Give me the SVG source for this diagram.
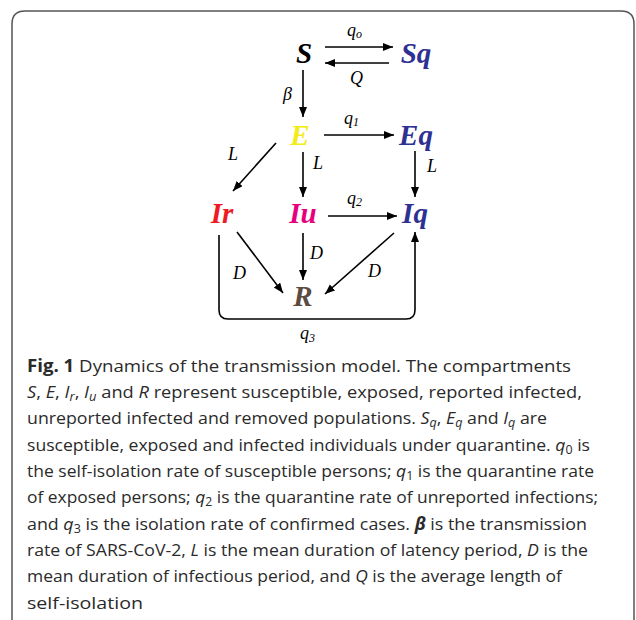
<svg xmlns="http://www.w3.org/2000/svg" width="636" height="620" viewBox="0 0 636 620">
<defs>
<marker id="ah" markerUnits="userSpaceOnUse" markerWidth="11" markerHeight="9" refX="10" refY="4" orient="auto">
<path d="M0,0 L10,4 L0,8 z" fill="#000"/>
</marker>
<style>
.node{font-family:"Liberation Serif",serif;font-weight:bold;font-style:italic;font-size:29px;text-anchor:middle}
.lbl{font-family:"Liberation Serif",serif;font-style:italic;font-size:18px;fill:#000}
.sub{font-size:12px}
.edge{stroke:#000;stroke-width:1.6;fill:none;marker-end:url(#ah)}
.cap{font-family:"Open Sans","Noto Sans",sans-serif;font-size:17px;fill:#2a2a2a}
.it{font-style:italic}
.cs{font-size:12px}
</style>
</defs>
<rect x="0" y="0" width="636" height="620" fill="#fff"/>
<path d="M12,640 V24 Q12,11 25,11 H621 Q634,11 634,24 V640" fill="none" stroke="#555" stroke-width="1.5"/>

<g id="connectors">
<line class="edge" x1="325" y1="47" x2="393" y2="47"/>
<line class="edge" x1="389" y1="63" x2="325" y2="63"/>
<line class="edge" x1="303" y1="70" x2="303" y2="117"/>
<line class="edge" x1="324" y1="135" x2="394" y2="135"/>
<line class="edge" x1="276" y1="143" x2="233" y2="191"/>
<line class="edge" x1="303" y1="152" x2="303" y2="197"/>
<line class="edge" x1="415" y1="151" x2="415" y2="197"/>
<line class="edge" x1="328" y1="216" x2="397" y2="216"/>
<line class="edge" x1="237" y1="232" x2="283" y2="293"/>
<line class="edge" x1="303" y1="233" x2="303" y2="280"/>
<line class="edge" x1="394" y1="233" x2="325" y2="294"/>
<path class="edge" d="M219,235 V310 Q219,319 228,319 H406 Q415,319 415,310 V232"/>
<text class="lbl" x="347" y="36">q<tspan class="sub" dy="2">o</tspan></text>
<text class="lbl" x="350" y="84">Q</text>
<text class="lbl" x="283" y="100">β</text>
<text class="lbl" x="344" y="124">q<tspan class="sub" dy="2">1</tspan></text>
<text class="lbl" x="228" y="160">L</text>
<text class="lbl" x="313" y="169">L</text>
<text class="lbl" x="427" y="172">L</text>
<text class="lbl" x="347" y="204">q<tspan class="sub" dy="2">2</tspan></text>
<text class="lbl" x="310" y="259">D</text>
<text class="lbl" x="233" y="279">D</text>
<text class="lbl" x="368" y="277">D</text>
<text class="lbl" x="300" y="339">q<tspan class="sub" dy="3">3</tspan></text>
</g>

<g id="node-S"><text class="node" x="304" y="63" fill="#000">S</text></g>
<g id="node-Sq"><text class="node" x="416" y="63" fill="#2e3192">Sq</text></g>
<g id="node-E"><text class="node" x="300" y="145" fill="#f3ec19">E</text></g>
<g id="node-Eq"><text class="node" x="416" y="145" fill="#2e3192">Eq</text></g>
<g id="node-Ir"><text class="node" x="222" y="223" fill="#ed1c24">Ir</text></g>
<g id="node-Iu"><text class="node" x="303" y="223" fill="#e6007e">Iu</text></g>
<g id="node-Iq"><text class="node" x="415" y="223" fill="#2e3192">Iq</text></g>
<g id="node-R"><text class="node" x="303" y="306" fill="#5b4b41">R</text></g>

<g id="caption">
<text class="cap" x="27" y="372" textLength="544" lengthAdjust="spacingAndGlyphs"><tspan font-weight="bold">Fig. 1</tspan>  Dynamics of the transmission model. The compartments</text>
<text class="cap" x="27" y="398" textLength="555" lengthAdjust="spacingAndGlyphs"><tspan class="it">S</tspan>, <tspan class="it">E</tspan>, <tspan class="it">I</tspan><tspan class="it cs" dy="3">r</tspan><tspan dy="-3">, </tspan><tspan class="it">I</tspan><tspan class="it cs" dy="3">u</tspan><tspan dy="-3"> and </tspan><tspan class="it">R</tspan> represent susceptible, exposed, reported infected,</text>
<text class="cap" x="27" y="424" textLength="520" lengthAdjust="spacingAndGlyphs">unreported infected and removed populations. <tspan class="it">S</tspan><tspan class="it cs" dy="3">q</tspan><tspan dy="-3">, </tspan><tspan class="it">E</tspan><tspan class="it cs" dy="3">q</tspan><tspan dy="-3"> and </tspan><tspan class="it">I</tspan><tspan class="it cs" dy="3">q</tspan><tspan dy="-3"> are</tspan></text>
<text class="cap" x="27" y="451" textLength="563" lengthAdjust="spacingAndGlyphs">susceptible, exposed and infected individuals under quarantine. <tspan class="it">q</tspan><tspan class="cs" dy="3">0</tspan><tspan dy="-3"> is</tspan></text>
<text class="cap" x="27" y="477" textLength="567" lengthAdjust="spacingAndGlyphs">the self-isolation rate of susceptible persons; <tspan class="it">q</tspan><tspan class="cs" dy="3">1</tspan><tspan dy="-3"> is the quarantine rate</tspan></text>
<text class="cap" x="27" y="503" textLength="571" lengthAdjust="spacingAndGlyphs">of exposed persons; <tspan class="it">q</tspan><tspan class="cs" dy="3">2</tspan><tspan dy="-3"> is the quarantine rate of unreported infections;</tspan></text>
<text class="cap" x="27" y="530" textLength="560" lengthAdjust="spacingAndGlyphs">and <tspan class="it">q</tspan><tspan class="cs" dy="3">3</tspan><tspan dy="-3"> is the isolation rate of confirmed cases. </tspan><tspan class="it" font-weight="bold">β</tspan> is the transmission</text>
<text class="cap" x="27" y="556" textLength="561" lengthAdjust="spacingAndGlyphs">rate of SARS-CoV-2, <tspan class="it">L</tspan> is the mean duration of latency period, <tspan class="it">D</tspan> is the</text>
<text class="cap" x="27" y="582" textLength="535" lengthAdjust="spacingAndGlyphs">mean duration of infectious period, and <tspan class="it">Q</tspan> is the average length of</text>
<text class="cap" x="27" y="609" textLength="116" lengthAdjust="spacingAndGlyphs">self-isolation</text>
</g>
</svg>
